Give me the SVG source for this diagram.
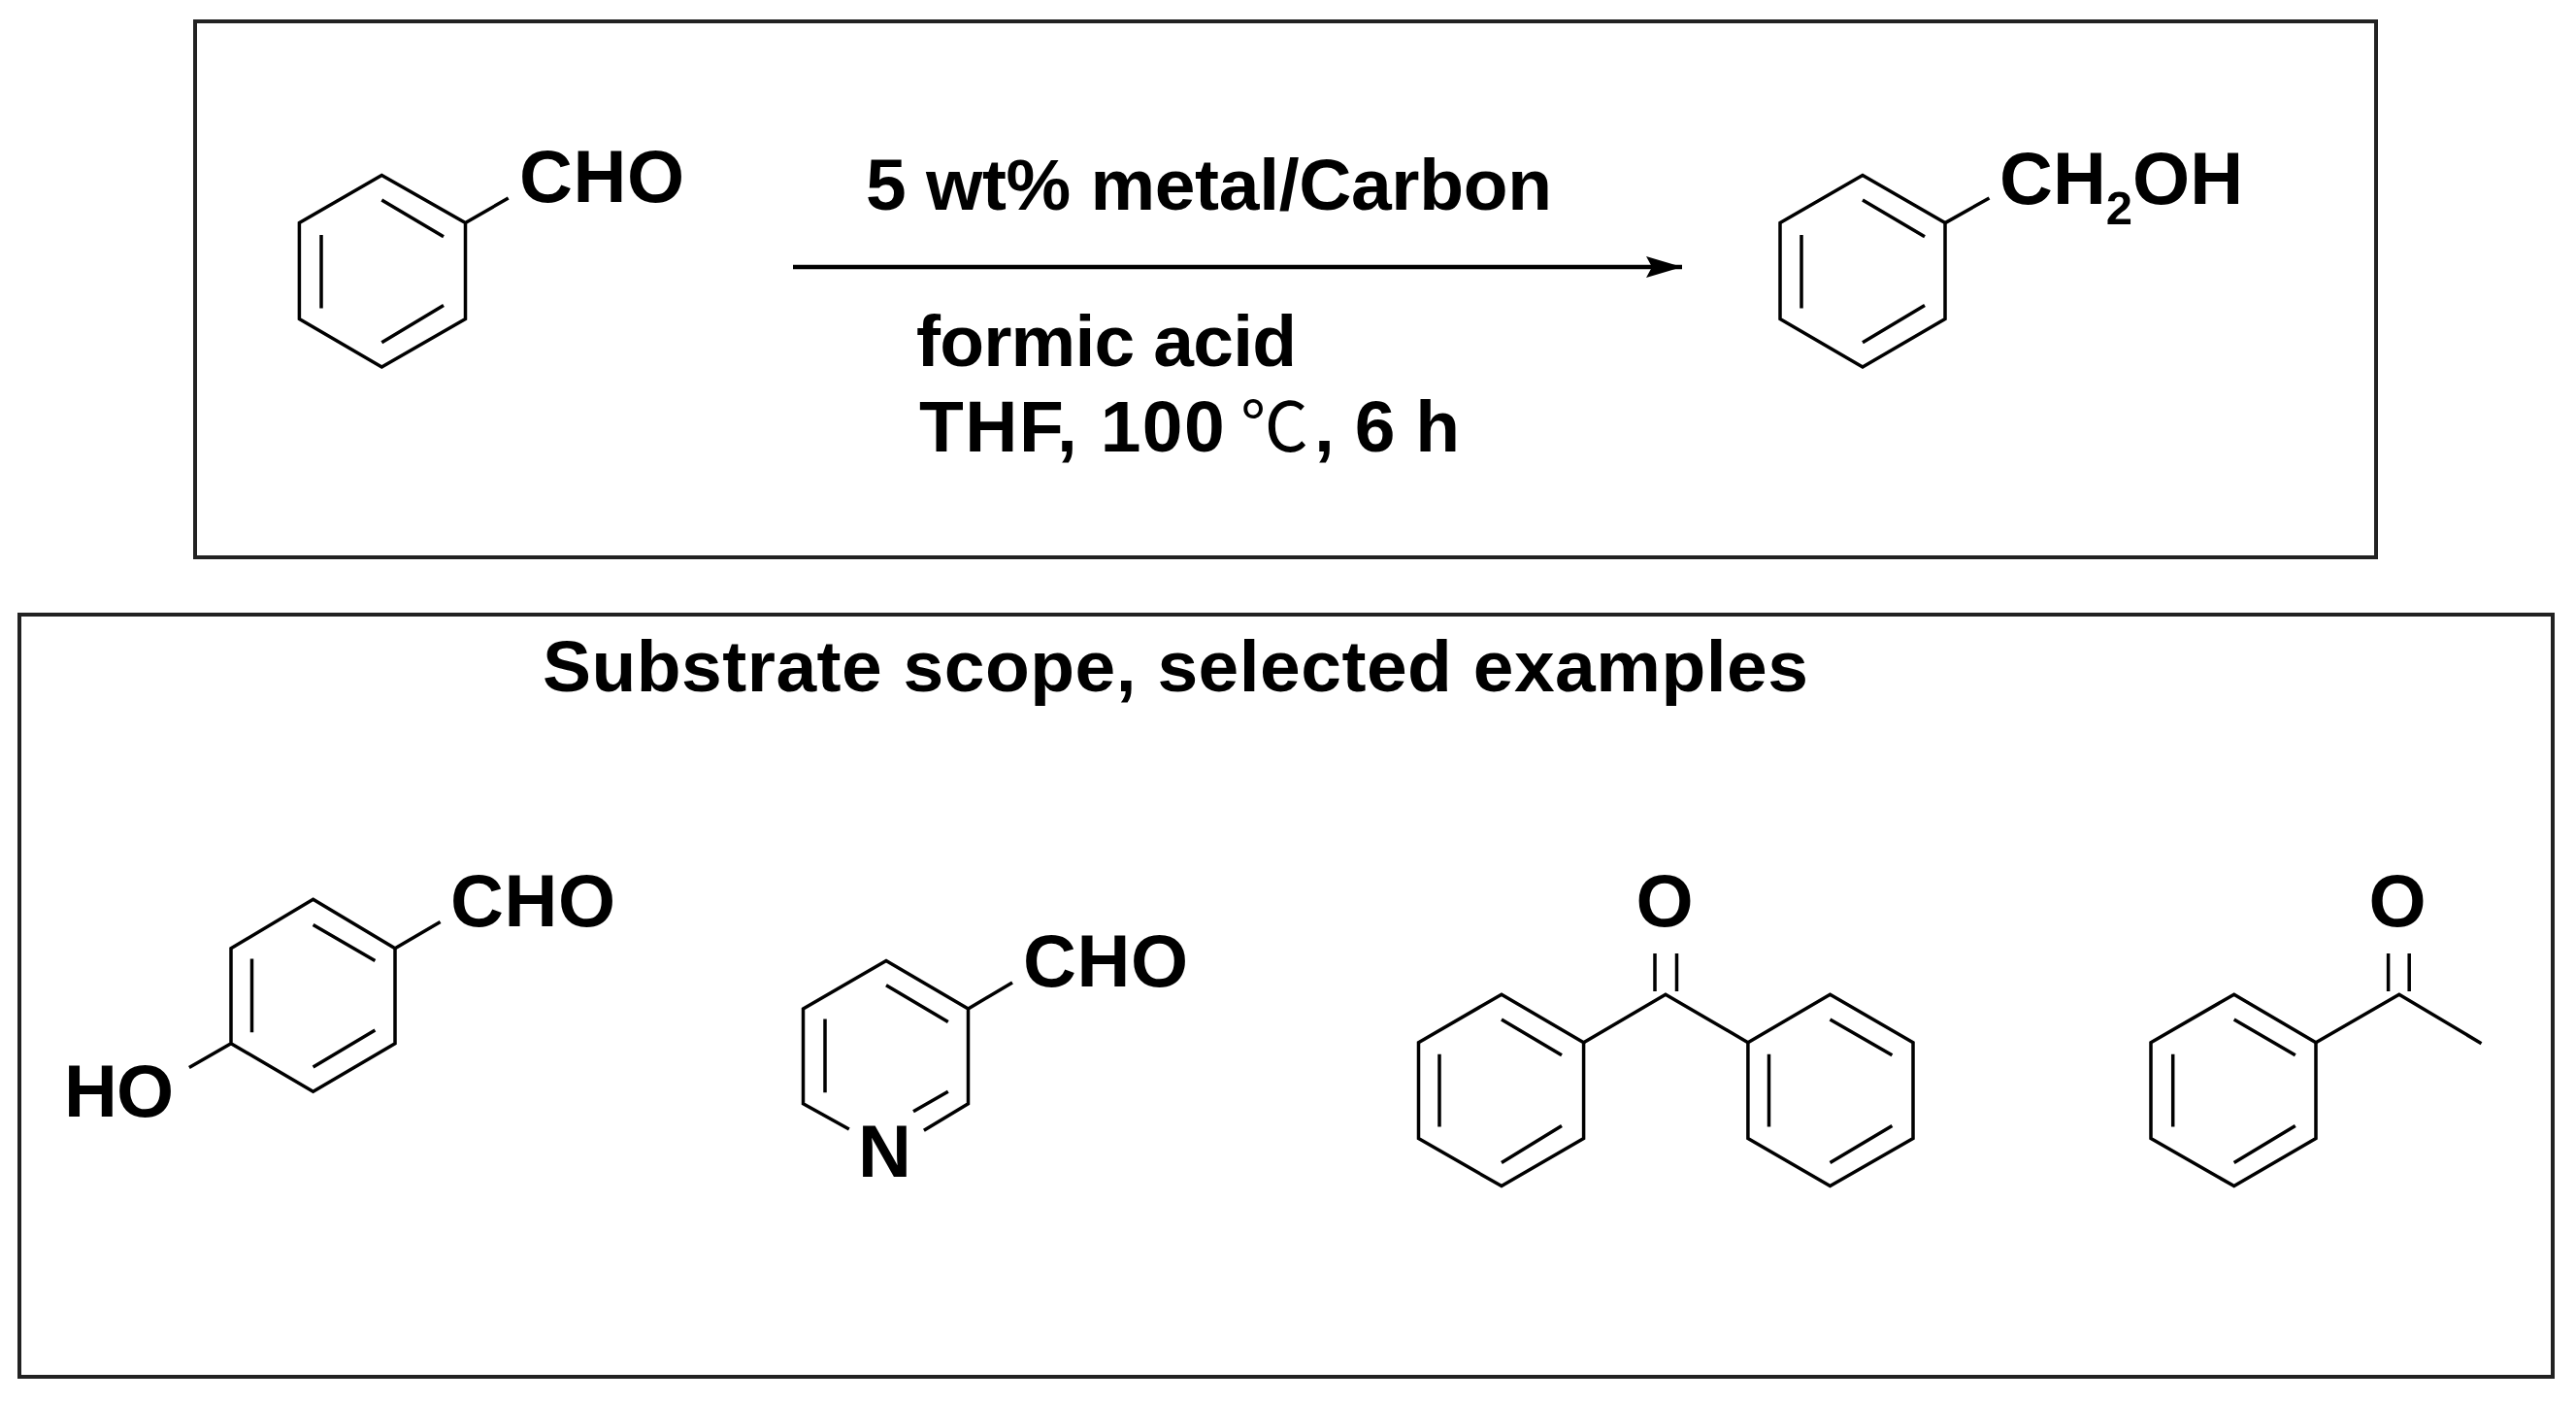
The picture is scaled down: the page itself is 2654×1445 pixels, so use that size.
<svg xmlns="http://www.w3.org/2000/svg" width="2654" height="1445" viewBox="0 0 2654 1445">
<style>
.box{fill:none;stroke:#222;stroke-width:4}
.bond{fill:none;stroke:#000;stroke-width:3.5;stroke-linejoin:miter}
text{font-family:"Liberation Sans",Arial,sans-serif;fill:#000}
.b{font-weight:700;font-size:75px}
.m{font-size:76px;font-weight:700}
.s{font-size:49px}
.c{font-family:"Noto Sans CJK SC",sans-serif;font-weight:400;font-size:70px}
</style>
<defs>
<marker id="head" markerUnits="userSpaceOnUse" markerWidth="38" markerHeight="24" refX="37" refY="12" orient="auto"><path d="M0 1L37 12L0 23L6 12Z" fill="#000"/></marker>
</defs>
<rect width="2654" height="1445" fill="#fff"/>
<g id="reaction-box"><rect class="box" x="201" y="22" width="2247" height="552"/></g>
<g id="scope-box"><rect class="box" x="20" y="633" width="2610" height="785"/></g>
<g id="connectors"><line x1="817" y1="275" x2="1733" y2="275" stroke="#000" stroke-width="4.5" marker-end="url(#head)"/></g>
<g id="conditions">
<text class="b" x="892" y="216" textLength="707">5 wt% metal/Carbon</text>
<text class="b" x="944" y="377" textLength="392">formic acid</text>
<text class="b" x="947" y="465" letter-spacing="1.5">THF, 100 <tspan class="c" letter-spacing="0" x="1278" y="465">℃</tspan><tspan letter-spacing="0" x="1354" y="465">, 6 h</tspan></text>
</g>
<g id="benzaldehyde">
<path class="bond" d="M393.3 180.6L479.5 229.6V328.4L393.3 378L308.4 328.4V229.6ZM393.3 205.9L457 243.8M331 242V317.6M393.3 352.8L457 314.6M479.5 229.6L523.7 204"/>
<text class="m" x="535" y="208" textLength="170">CHO</text>
</g>
<g id="benzyl-alcohol">
<path class="bond" d="M1919 180.6L2004 229.6V328.4L1919 378L1834 328.4V229.6ZM1919 205.9L1983 243.8M1856 242V317.6M1919 352.8L1983 314.6M2004 229.6L2049.5 204"/>
<text class="m" x="2060" y="210">CH<tspan class="s" dy="21">2</tspan><tspan dy="-21">OH</tspan></text>
</g>
<g id="scope-title"><text class="b" x="559" y="712" textLength="1304">Substrate scope, selected examples</text></g>
<g id="hydroxybenzaldehyde">
<path class="bond" d="M322.6 926.3L407 976.8V1074.7L322.6 1124.2L238 1074.7V976.8ZM322.6 952.6L386.4 989.5M259.5 987.4V1063.2M322.6 1099L386.4 1061M407 976.8L453.6 949.5M238 1074.7L194.9 1099.5"/>
<text class="m" x="464" y="954" textLength="170">CHO</text>
<text class="m" x="66" y="1150" textLength="113">HO</text>
</g>
<g id="nicotinaldehyde">
<path class="bond" d="M874.8 1163L827.5 1136.8V1039L913 989.5L997.5 1039V1136.8L951.9 1164.2M941 1144.7L976.8 1124.2M913 1014.7L976.8 1052.6M850 1049.5V1125.3M997.5 1039L1043 1012"/>
<text class="m" x="1054" y="1016" textLength="170">CHO</text>
<text class="m" x="884" y="1212">N</text>
</g>
<g id="benzophenone">
<path class="bond" d="M1547 1024.2L1631.6 1073.7V1172.6L1547 1221.6L1461.5 1172.6V1073.7ZM1547 1050L1609 1086.8M1483 1085.8V1160.5M1547 1197.4L1609 1159.5"/>
<path class="bond" d="M1885.5 1024.2L1971 1073.7V1172.6L1885.5 1221.6L1800.9 1172.6V1073.7ZM1885.5 1050L1949.4 1086.8M1822.5 1085.8V1160.5M1885.5 1197.4L1949.4 1159.5"/>
<path class="bond" d="M1631.6 1073.7L1716 1024.2L1800.9 1073.7M1705 982V1021M1727.5 982V1021"/>
<text class="m" x="1715" y="954" text-anchor="middle">O</text>
</g>
<g id="acetophenone">
<path class="bond" d="M2301.7 1024.2L2386 1073.7V1172.6L2301.7 1221.6L2216 1172.6V1073.7ZM2301.7 1050L2364.8 1086.8M2238.7 1085.8V1160.5M2301.7 1197.4L2364.8 1159.5"/>
<path class="bond" d="M2386 1073.7L2471.8 1024.2L2556.5 1074.7M2460.6 982V1021M2482.2 982V1021"/>
<text class="m" x="2470" y="954" text-anchor="middle">O</text>
</g>
</svg>
